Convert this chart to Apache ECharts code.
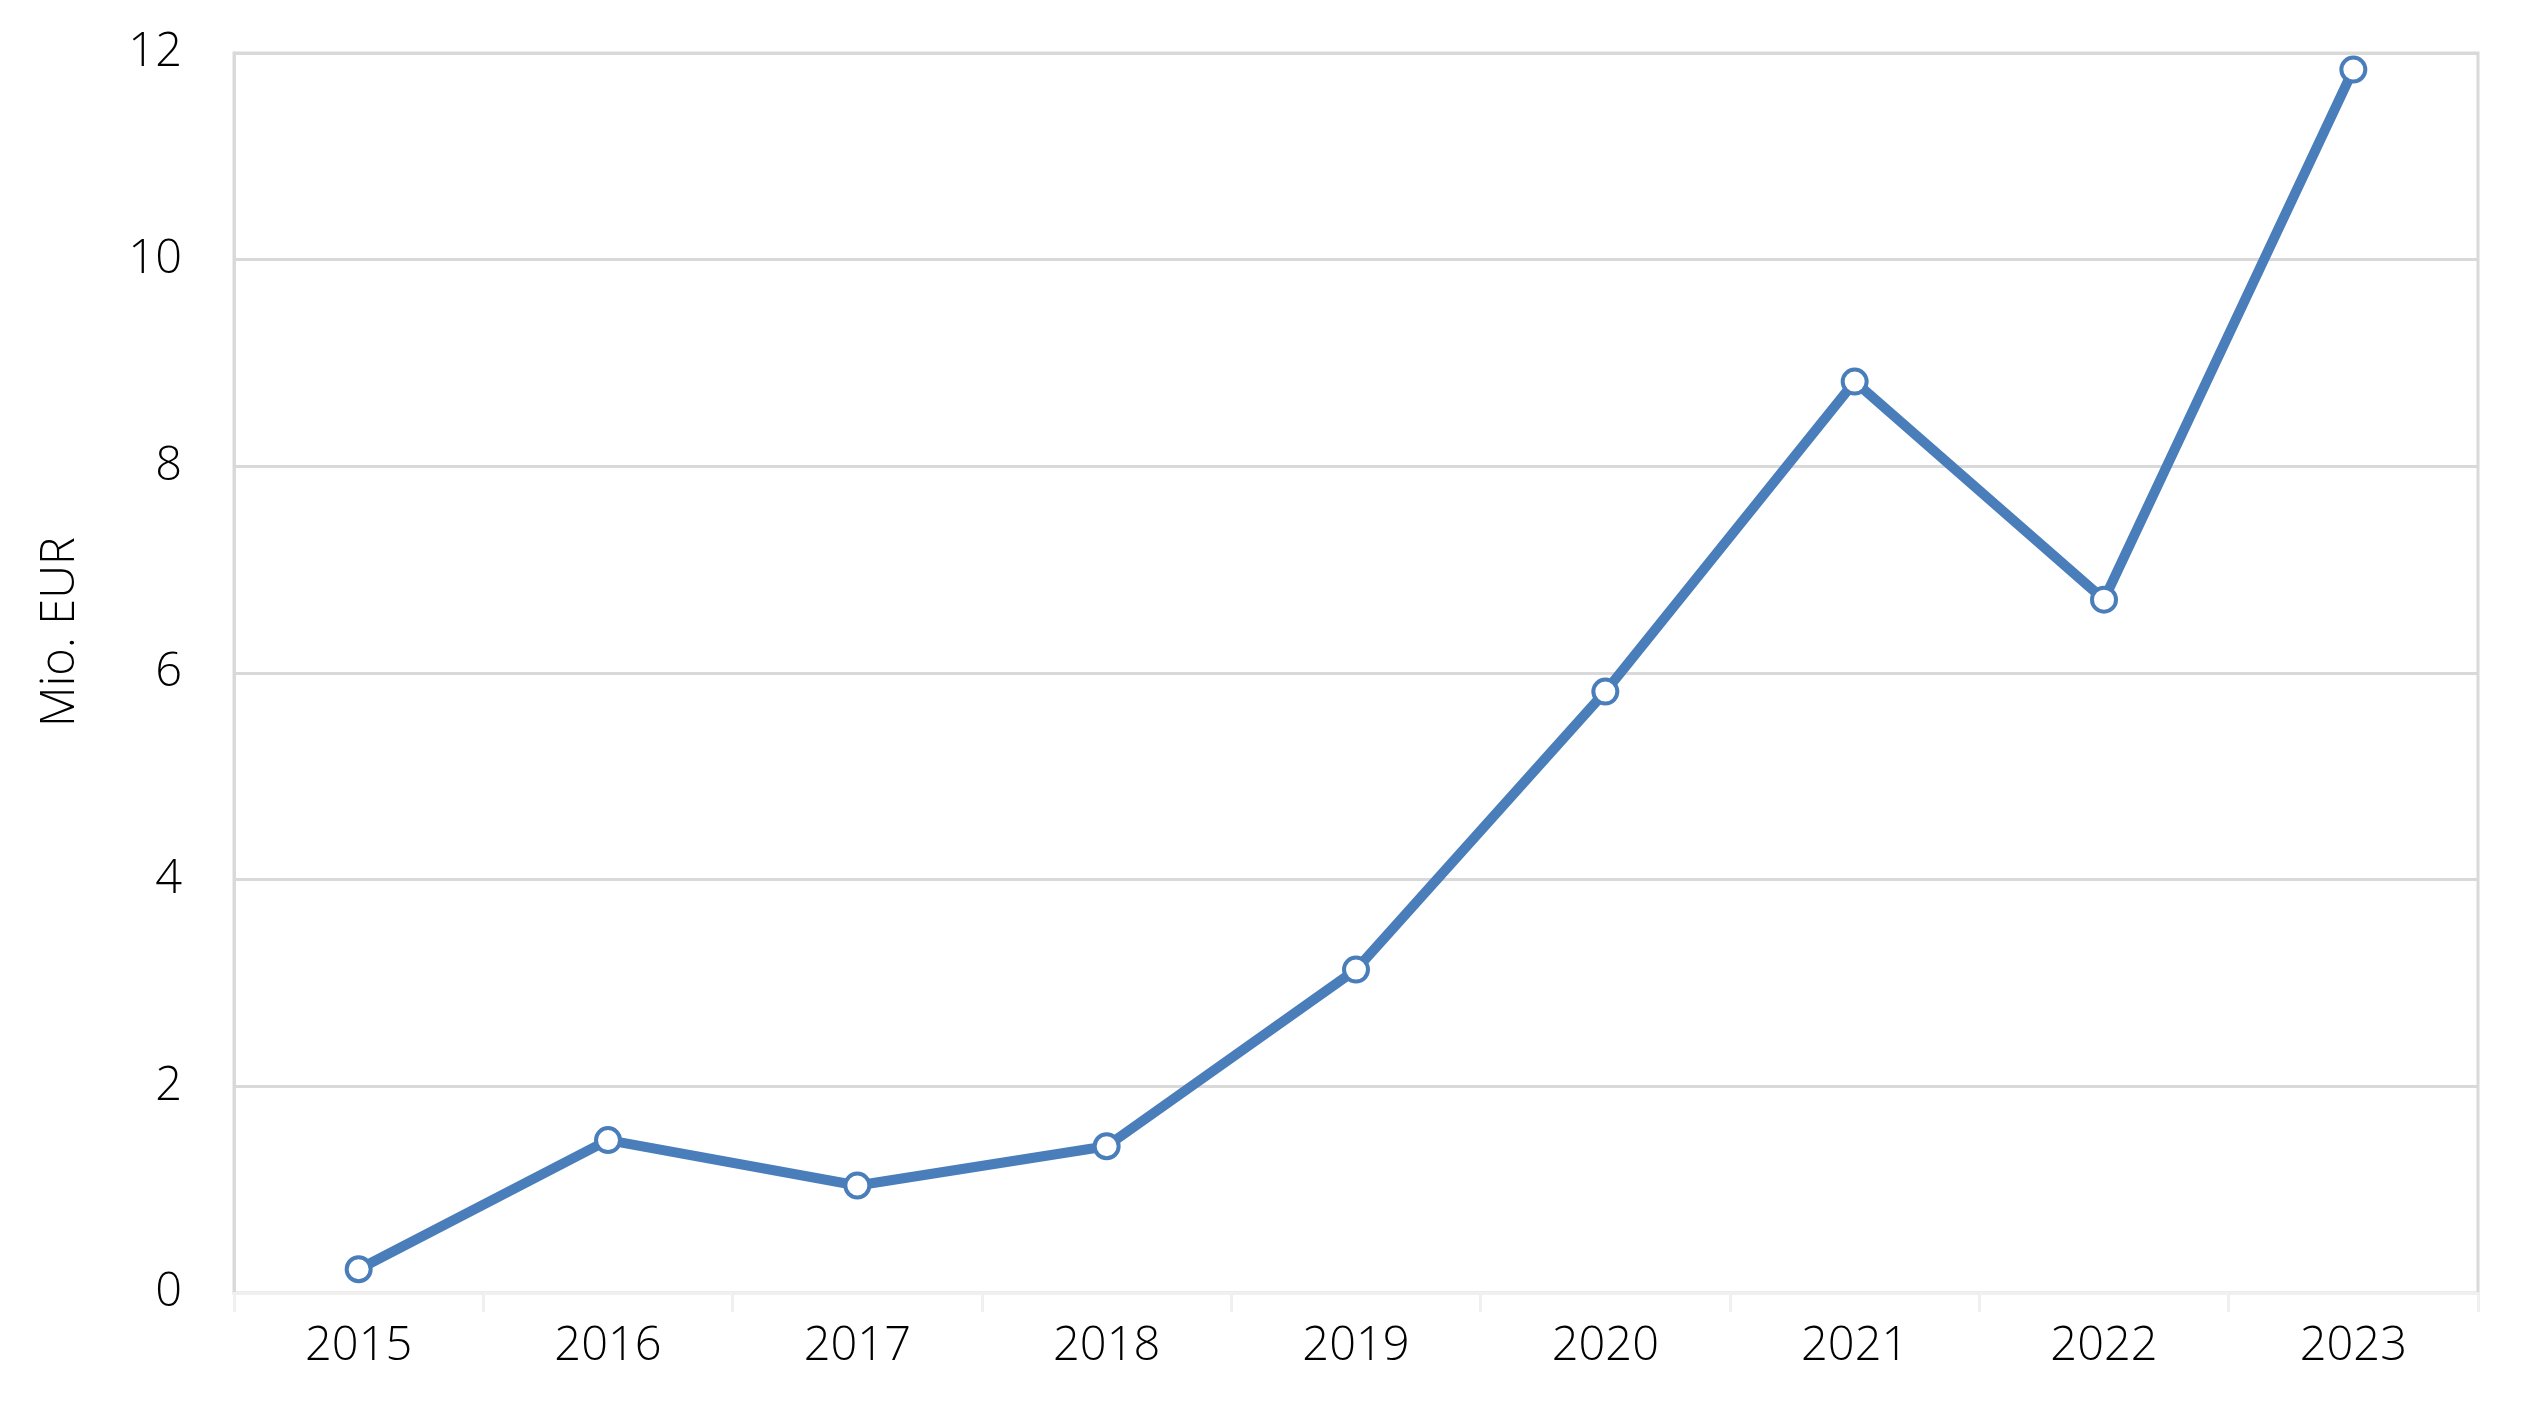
<!DOCTYPE html>
<html>
<head>
<meta charset="utf-8">
<script src="https://cdn.jsdelivr.net/npm/echarts@6/dist/echarts.min.js"></script>
<style>
html,body{margin:0;padding:0;background:#fff;}
#chart{width:2531px;height:1416px;}
</style>
</head>
<body>
<div id="chart"></div>
<script>
const years = ['2015','2016','2017','2018','2019','2020','2021','2022','2023'];
const values = [0.23, 1.48, 1.04, 1.42, 3.13, 5.82, 8.82, 6.71, 11.84];
const yTicks = [0, 2, 4, 6, 8, 10, 12];
const yTitle = 'Mio. EUR';

const FONT = '"Open Sans", "Noto Sans", sans-serif';
const chart = echarts.init(document.getElementById('chart'), null, {renderer: 'canvas'});
chart.setOption({
  animation: false,
  backgroundColor: '#ffffff',
  grid: {
    left: 234, right: 53, top: 53, bottom: 123,
    show: true, borderColor: '#D9D9D9', borderWidth: 3, backgroundColor: 'transparent'
  },
  xAxis: {
    type: 'category',
    data: years,
    boundaryGap: true,
    axisLine: {show: true, lineStyle: {color: '#F0F0F0', width: 3}},
    axisTick: {show: true, alignWithLabel: false, length: 19, lineStyle: {color: '#F0F0F0', width: 3}},
    axisLabel: {color: '#000', fontSize: 47, fontWeight: 300, fontFamily: FONT, margin: 30},
    splitLine: {show: false}
  },
  yAxis: {
    type: 'value',
    min: yTicks[0], max: yTicks[yTicks.length - 1], interval: 2,
    name: yTitle,
    nameLocation: 'middle',
    nameGap: 150,
    nameRotate: 90,
    nameTextStyle: {color: '#000', fontSize: 47, fontWeight: 300, fontFamily: FONT, padding: [0, 0, 0, 82]},
    axisLine: {show: true, lineStyle: {color: '#D9D9D9', width: 3}},
    axisTick: {show: false},
    axisLabel: {color: '#000', fontSize: 47, fontWeight: 300, fontFamily: FONT, margin: 52},
    splitLine: {show: true, lineStyle: {color: '#D9D9D9', width: 3}}
  },
  series: [{
    type: 'line',
    data: values,
    symbol: 'circle',
    symbolSize: 24,
    showSymbol: true,
    lineStyle: {color: '#4A7EBB', width: 10},
    itemStyle: {color: '#ffffff', borderColor: '#4A7EBB', borderWidth: 4},
    emphasis: {disabled: true},
    z: 5
  }]
});
</script>
</body>
</html>
